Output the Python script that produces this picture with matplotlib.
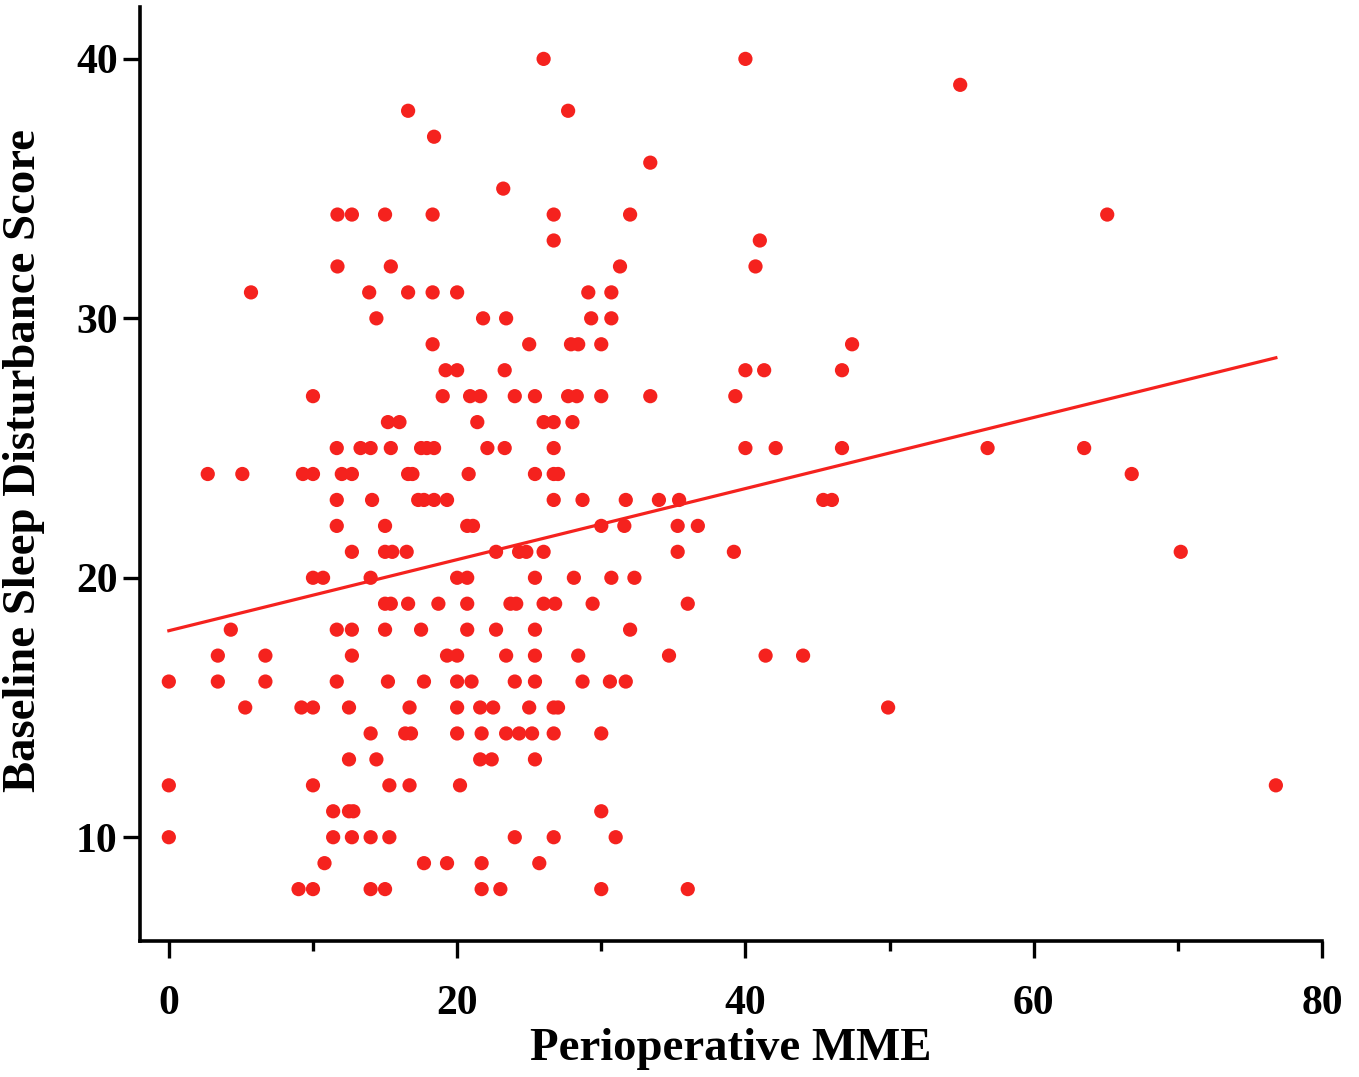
import matplotlib

matplotlib.use("Agg")
import matplotlib.pyplot as plt
import numpy as np

# sleep disturbance score rows and the MME values found on each row
score_levels = [40, 39, 38, 37, 36, 35, 34, 33, 32, 31, 30, 29, 28, 27, 26, 25,
                24, 23, 22, 21, 20, 19, 18, 17, 16, 15, 14, 13, 12, 11, 10, 9, 8]
mme_at_level = [
    [26.0, 40.0],
    [54.9],
    [16.6, 27.7],
    [18.4],
    [33.4],
    [23.2],
    [11.7, 12.7, 15.0, 18.3, 26.7, 32.0, 65.1],
    [26.7, 41.0],
    [11.7, 15.4, 31.3, 40.7],
    [5.7, 13.9, 16.6, 18.3, 20.0, 29.1, 30.7],
    [14.4, 21.8, 23.4, 29.3, 30.7],
    [18.3, 25.0, 27.9, 28.4, 30.0, 47.4],
    [19.2, 20.0, 23.3, 40.0, 41.3, 46.7],
    [10.0, 19.0, 20.9, 21.6, 24.0, 25.4, 27.7, 28.3, 30.0, 33.4, 39.3],
    [15.2, 16.0, 21.4, 26.0, 26.7, 28.0],
    [11.65, 13.3, 14.0, 15.4, 17.5, 17.9, 18.4, 22.1, 23.3, 26.7, 40.0, 42.1,
     46.7, 56.8, 63.5],
    [2.7, 5.1, 9.3, 10.0, 12.0, 12.7, 16.6, 16.9, 20.8, 25.4, 26.7, 27.0, 66.8],
    [11.65, 14.1, 17.3, 17.7, 18.4, 19.3, 26.7, 28.7, 31.7, 34.0, 35.4, 45.4, 46.0],
    [11.65, 15.0, 20.7, 21.1, 30.0, 31.6, 35.3, 36.7],
    [12.7, 15.0, 15.5, 16.5, 22.7, 24.3, 24.8, 26.0, 35.3, 39.2, 70.2],
    [10.0, 10.7, 14.0, 20.0, 20.7, 25.4, 28.1, 30.7, 32.3],
    [15.0, 15.4, 16.6, 18.7, 20.7, 23.7, 24.1, 26.0, 26.8, 29.4, 36.0],
    [4.3, 11.65, 12.7, 15.0, 17.5, 20.7, 22.7, 25.4, 32.0],
    [3.4, 6.7, 12.7, 19.3, 20.0, 23.4, 25.4, 28.4, 34.7, 41.4, 44.0],
    [0.0, 3.4, 6.7, 11.65, 15.2, 17.7, 20.0, 21.0, 24.0, 25.4, 28.7, 30.6, 31.7],
    [5.3, 9.2, 10.0, 12.5, 16.7, 20.0, 21.6, 22.5, 25.0, 26.7, 27.0, 49.9],
    [14.0, 16.4, 16.8, 20.0, 21.7, 23.4, 24.3, 25.2, 26.7, 30.0],
    [12.5, 14.4, 21.6, 22.4, 25.4],
    [0.0, 10.0, 15.3, 16.7, 20.2, 76.8],
    [11.4, 12.5, 12.8, 30.0],
    [0.0, 11.4, 12.7, 14.0, 15.3, 24.0, 26.7, 31.0],
    [10.8, 17.7, 19.3, 21.7, 25.7],
    [9.0, 10.0, 14.0, 15.0, 21.7, 23.0, 30.0, 36.0],
]

x_ticks = [0, 20, 40, 60, 80]
y_ticks = [10, 20, 30, 40]

RED = "#f5221e"

mme = np.concatenate([np.array(v, dtype=float) for v in mme_at_level])
sleep = np.concatenate([np.full(len(v), s, dtype=float) for s, v in zip(score_levels, mme_at_level)])

slope, intercept = np.polyfit(mme, sleep, 1)
xf = np.array([mme.min(), mme.max()])

plt.rcParams["font.family"] = ["Liberation Serif", "DejaVu Serif"]
plt.rcParams["font.weight"] = "bold"

fig = plt.figure(figsize=(13.59, 10.77), dpi=100)
ax = fig.add_axes([140 / 1359, 1 - 941 / 1077, (1322 - 140) / 1359, (941 - 7) / 1077])

ax.scatter(mme, sleep, s=105, color=RED, edgecolors="none", zorder=3)
ax.plot(xf, intercept + slope * xf, color=RED, lw=2.3, zorder=2)

ax.set_xlim(-2, 80)
ax.set_ylim(6, 42)
ax.set_xticks(x_ticks)
ax.set_xticks([10, 30, 50, 70], minor=True)
ax.set_yticks(y_ticks)

for side in ("top", "right"):
    ax.spines[side].set_visible(False)
for side in ("left", "bottom"):
    ax.spines[side].set_linewidth(2.6)

ax.tick_params(axis="x", which="major", length=12, width=2.4, pad=20, labelsize=30)
ax.tick_params(axis="x", which="minor", length=7, width=2.4)
ax.tick_params(axis="y", which="major", length=12, width=2.4, pad=4, labelsize=30)
for lab in ax.get_xticklabels() + ax.get_yticklabels():
    lab.set_fontweight("bold")

ax.set_xlabel("Perioperative MME", fontsize=33.7, fontweight="bold", labelpad=3)
ax.set_ylabel("Baseline Sleep Disturbance Score", fontsize=33.7, fontweight="bold")
ax.yaxis.set_label_coords(-0.080, 0.514)

fig.savefig("out.png", dpi=100)
